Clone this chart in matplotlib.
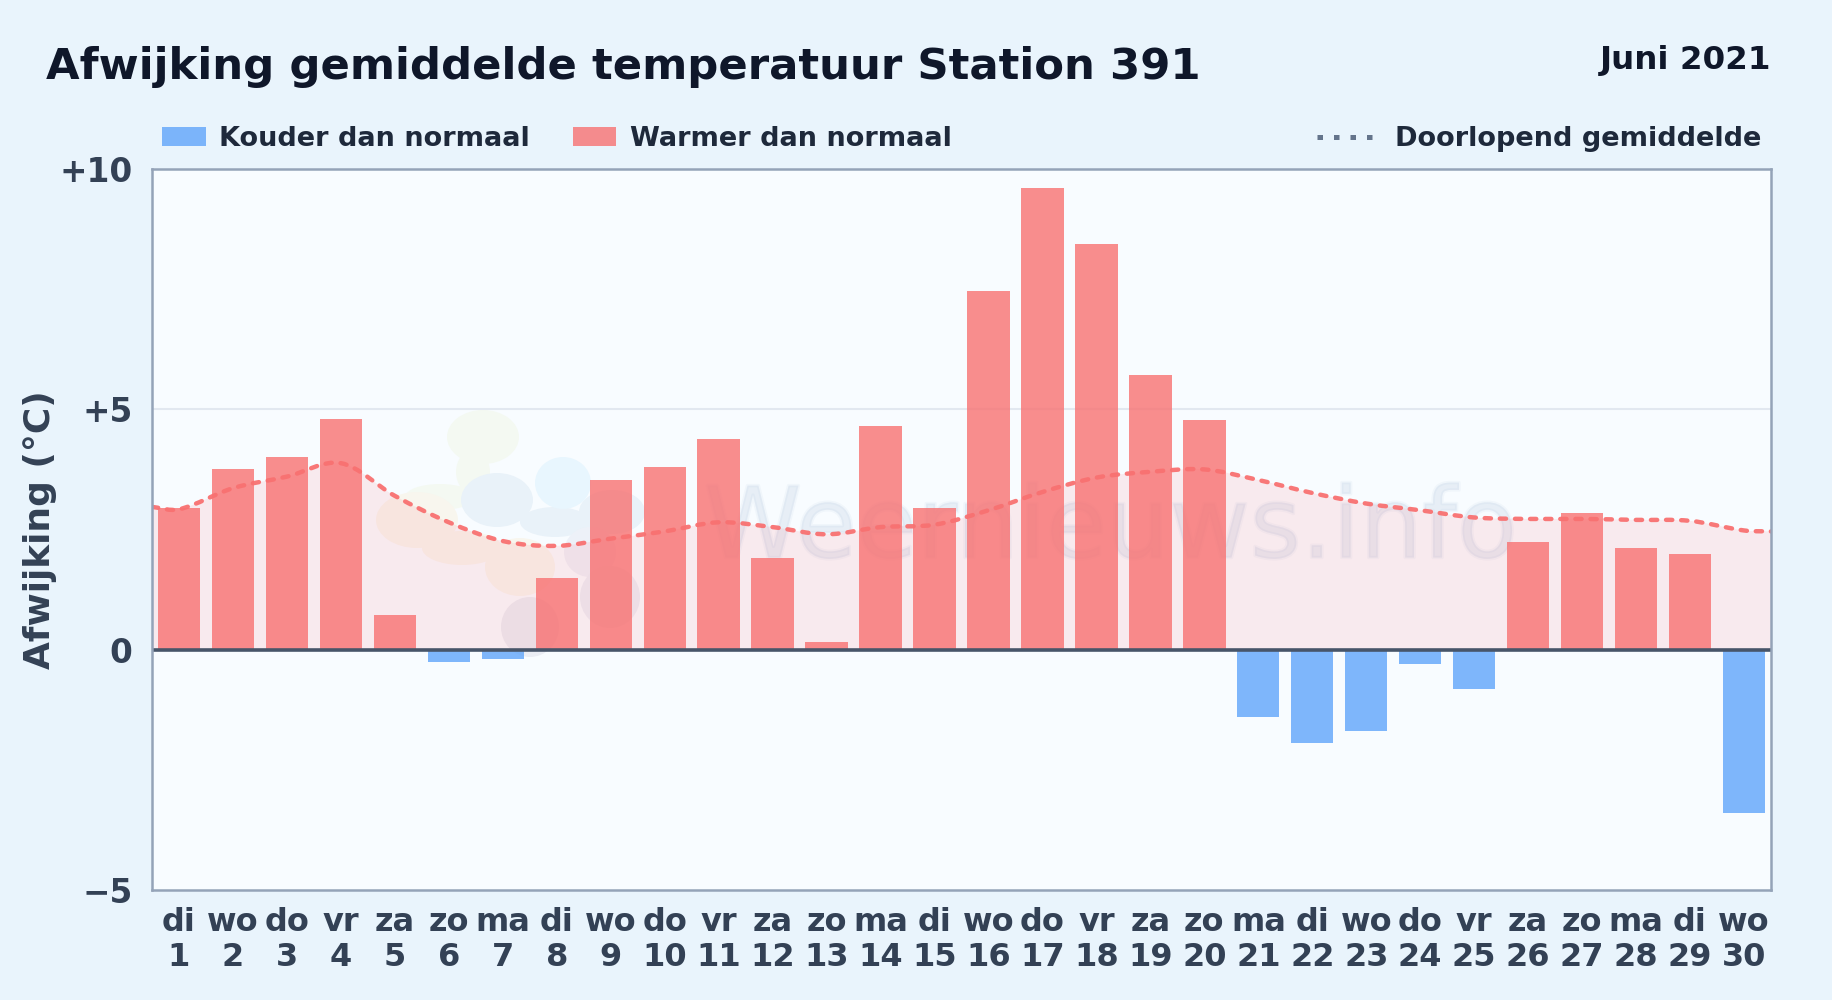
import matplotlib
matplotlib.use("Agg")
import matplotlib.pyplot as plt
import matplotlib.patheffects as pe
from matplotlib.lines import Line2D
from matplotlib.patches import Ellipse, PathPatch, Rectangle
from matplotlib.path import Path
from matplotlib.transforms import IdentityTransform

W, H = 1832, 1000

weekdays = ["di", "wo", "do", "vr", "za", "zo", "ma", "di", "wo", "do",
            "vr", "za", "zo", "ma", "di", "wo", "do", "vr", "za", "zo",
            "ma", "di", "wo", "do", "vr", "za", "zo", "ma", "di", "wo"]
days = list(range(1, 31))
deviation = [2.95, 3.75, 4.0, 4.8, 0.72, -0.25, -0.2, 1.5, 3.53, 3.8,
             4.38, 1.9, 0.15, 4.65, 2.95, 7.47, 9.6, 8.45, 5.72, 4.77,
             -1.4, -1.95, -1.7, -0.3, -0.82, 2.25, 2.85, 2.12, 2.0, -3.4]
running_avg = [2.92, 3.36, 3.6, 3.88, 3.2, 2.65, 2.26, 2.16, 2.31, 2.46,
               2.65, 2.55, 2.4, 2.55, 2.6, 2.9, 3.28, 3.58, 3.7, 3.75,
               3.53, 3.26, 3.04, 2.9, 2.75, 2.72, 2.72, 2.7, 2.68, 2.48]
edge_left = 2.97
edge_right = 2.46
y_ticks = [-5, 0, 5, 10]
y_labels = ["\u22125", "0", "+5", "+10"]

RED = "#f87171"
BLUE = "#60a5fa"
INK = "#0f172a"
SLATE = "#334155"
LEGEND_INK = "#1e293b"
BG = "#e9f4fc"

plt.rcParams["font.family"] = "DejaVu Sans"
plt.rcParams["font.weight"] = "bold"


def fx(x):
    return x / W


def fy(y):
    return 1 - y / H


def smooth_path(xs, ys):
    # cubic segments with tangents from the neighbours, like a chart.js tension line
    verts = [(xs[0], ys[0])]
    codes = [Path.MOVETO]
    slopes = []
    for i in range(len(xs)):
        a = max(i - 1, 0)
        b = min(i + 1, len(xs) - 1)
        slopes.append((ys[b] - ys[a]) / (xs[b] - xs[a]))
    for i in range(len(xs) - 1):
        dx = (xs[i + 1] - xs[i]) / 3
        verts.append((xs[i] + dx, ys[i] + slopes[i] * dx))
        verts.append((xs[i + 1] - dx, ys[i + 1] - slopes[i + 1] * dx))
        verts.append((xs[i + 1], ys[i + 1]))
        codes += [Path.CURVE4] * 3
    return verts, codes


fig = plt.figure(figsize=(W / 100, H / 100), dpi=100, facecolor=BG)
ax = fig.add_axes([fx(152), fy(890), fx(1771 - 152), (890 - 169) / H])
ax.set_facecolor("#f8fcff")

x = list(range(30))
ax.set_xlim(-0.5, 29.5)
ax.set_ylim(-5, 10)

# faint logo behind the data, pale opaque blobs so overlaps stay flat
blobs = [(483, 437, 72, 54, "#f4f9f2"), (473, 472, 34, 44, "#f4f9f2"),
         (440, 497, 70, 26, "#f4f9f2"), (417, 520, 82, 56, "#f8f6ee"),
         (462, 548, 80, 34, "#f8f6ee"), (520, 567, 70, 58, "#f8f6ee"),
         (497, 500, 72, 54, "#e9f2f9"), (555, 522, 70, 30, "#e9f2f9"),
         (612, 512, 66, 44, "#e9f2f9"), (563, 483, 56, 52, "#e8f6fe"),
         (590, 552, 52, 50, "#edf1f8"), (530, 627, 58, 60, "#eaedf4"),
         (610, 597, 60, 62, "#ebeff6")]
for bx, by, bw, bh, bc in blobs:
    ax.add_patch(Ellipse((bx, H - by), bw, bh, facecolor=bc, edgecolor="none",
                         transform=IdentityTransform(), zorder=1))
ax.text(fx(1111), fy(530), "Weernieuws.info", transform=fig.transFigure, ha="center", va="center",
        fontsize=71, fontweight="normal", color="#8fa8cc", alpha=0.09, zorder=1.2,
        path_effects=[pe.Stroke(linewidth=2.5, foreground="#8fa8cc", alpha=0.07), pe.Normal()])

ax.axhline(5, color="#e2e8f0", lw=1.5, zorder=1.5)

line_x = [-0.5] + x + [29.5]
line_y = [edge_left] + running_avg + [edge_right]
verts, codes = smooth_path(line_x, line_y)
ax.add_patch(PathPatch(Path(verts + [(29.5, 0), (-0.5, 0), (-0.5, line_y[0])],
                            codes + [Path.LINETO, Path.LINETO, Path.CLOSEPOLY]),
                       facecolor="#ff6b78", edgecolor="none", alpha=0.12, zorder=2))

colors = [RED if v >= 0 else BLUE for v in deviation]
ax.bar(x, deviation, width=0.785, color=colors, alpha=0.8, linewidth=0, zorder=3)

ax.add_patch(PathPatch(Path(verts, codes), facecolor="none", edgecolor=RED, lw=3.2, alpha=0.95,
                       linestyle=(0, (1.4, 2.0)), capstyle="round", zorder=4))
ax.axhline(0, color="#475569", lw=2.6, zorder=5)

for s in ax.spines.values():
    s.set_color("#94a3b8")
    s.set_linewidth(1.8)
    s.set_zorder(6)

ax.set_xticks(x)
ax.set_xticklabels([f"{d}\n{n}" for d, n in zip(weekdays, days)], linespacing=1.16)
ax.set_yticks(y_ticks)
ax.set_yticklabels(y_labels)
ax.tick_params(axis="x", length=0, pad=12, labelsize=23, labelcolor=SLATE)
ax.tick_params(axis="y", length=0, pad=14, labelsize=23.6, labelcolor=SLATE)

fig.text(fx(40), fy(530), "Afwijking (°C)", rotation=90, ha="center", va="center",
         fontsize=25.9, color=SLATE)
fig.text(fx(46), fy(67), "Afwijking gemiddelde temperatuur Station 391", ha="left", va="center",
         fontsize=31.2, color=INK)
fig.text(fx(1771), fy(61), "Juni 2021", ha="right", va="center", fontsize=23.4, color=INK)

# legend row
fig.add_artist(Rectangle((fx(162), fy(146)), fx(44), 19 / H, facecolor=BLUE, alpha=0.8,
                         edgecolor="none", transform=fig.transFigure))
fig.text(fx(219), fy(139), "Kouder dan normaal", ha="left", va="center", fontsize=19.5, color=LEGEND_INK)
fig.add_artist(Rectangle((fx(573), fy(146)), fx(43), 19 / H, facecolor=RED, alpha=0.8,
                         edgecolor="none", transform=fig.transFigure))
fig.text(fx(630), fy(139), "Warmer dan normaal", ha="left", va="center", fontsize=19.5, color=LEGEND_INK)
fig.add_artist(Line2D([fx(1317), fx(1373)], [fy(137), fy(137)], color="#64748b", lw=3.6,
                      linestyle=(0, (1.1, 2.2)), transform=fig.transFigure))
fig.text(fx(1395), fy(139), "Doorlopend gemiddelde", ha="left", va="center", fontsize=19.5, color=LEGEND_INK)

fig.savefig("out.png", dpi=100, facecolor=BG)
